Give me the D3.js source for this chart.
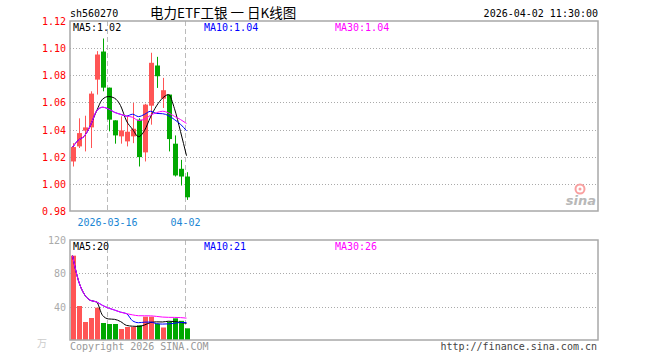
<!DOCTYPE html>
<html>
<head>
<meta charset="utf-8">
<script src="https://cdn.jsdelivr.net/npm/d3@7/dist/d3.min.js"></script>
<style>
body { margin: 0; background: #fff; }
text { font-family: "DejaVu Sans Mono", monospace; font-size: 10px; }
</style>
</head>
<body>
<script>
// daily data
const dates = ["2026-03-06", "2026-03-09", "2026-03-10", "2026-03-11", "2026-03-12", "2026-03-13",
  "2026-03-16", "2026-03-17", "2026-03-18", "2026-03-19", "2026-03-20", "2026-03-23", "2026-03-24",
  "2026-03-25", "2026-03-26", "2026-03-27", "2026-03-30", "2026-03-31", "2026-04-01", "2026-04-02"]
const opens = [1.0165, 1.0276, 1.0392, 1.0416, 1.0768, 1.0975, 1.0709, 1.0468, 1.0350, 1.0313,
  1.0350, 1.0473, 1.0232, 1.0576, 1.0872, 1.0628, 1.0658, 1.0296, 1.0111, 1.0054]
const closes = [1.0271, 1.0374, 1.0416, 1.0665, 1.0953, 1.0709, 1.0473, 1.0357, 1.0394, 1.0384,
  1.0406, 1.0197, 1.0584, 1.0892, 1.0793, 1.0690, 1.0330, 1.0062, 1.0054, 0.9901]
const highs = [1.0300, 1.0483, 1.0502, 1.0682, 1.0978, 1.1071, 1.0709, 1.0468, 1.0498, 1.0498,
  1.0596, 1.0483, 1.0590, 1.0966, 1.0936, 1.0781, 1.0658, 1.0357, 1.0177, 1.0086]
const lows = [1.0128, 1.0264, 1.0239, 1.0264, 1.0658, 1.0682, 1.0387, 1.0296, 1.0296, 1.0276,
  1.0300, 1.0128, 1.0165, 1.0436, 1.0707, 1.0559, 1.0239, 1.0054, 0.9988, 0.9882]
const volumes = [101.2, 40.8, 21.6, 26.4, 38.8, 20.4, 19.2, 19.2, 13.2, 15.6,
  15.6, 17.6, 28, 28, 19.6, 15, 22, 26, 23, 14]

const priceTicks = [1.12, 1.10, 1.08, 1.06, 1.04, 1.02, 1.00, 0.98]
const volTicks = [120, 80, 40]
const markDates = ["2026-03-16", "2026-04-02"]
const markLabels = ["2026-03-16", "04-02"]

const red = "#ff5555", green = "#00a800"

var svg = d3.select("body").append("svg")
  .attr("width", 660)
  .attr("height", 360)

// 88 day slots across the panel
var x = d3.scaleBand().domain(d3.range(88)).range([69.5, 597.5])
var xc = i => x(i) + x.bandwidth() / 2
var y = d3.scaleLinear().domain([0.98, 1.12]).range([211, 21])
var yv = d3.scaleLinear().domain([0, 120]).range([340, 240])

function ma(arr, n) {
  return arr.map((d, i) => d3.mean(arr.slice(Math.max(0, i - n + 1), i + 1)))
}

// header
svg.append("text").attr("x", 70).attr("y", 17).text("sh560270")
svg.append("text").attr("x", 150).attr("y", 18)
  .attr("xml:space", "preserve")
  .style("font-family", "'Noto Sans CJK SC', sans-serif").style("font-size", "13.5px")
  .text("电力ETF工银 一 日K线图")
svg.append("text").attr("x", 598).attr("y", 17).attr("text-anchor", "end").text("2026-04-02 11:30:00")

// price grid
svg.selectAll(".pgrid").data(priceTicks.slice(1, -1)).enter().append("line")
  .attr("x1", 70).attr("x2", 598)
  .attr("y1", d => Math.round(y(d)) + 0.5).attr("y2", d => Math.round(y(d)) + 0.5)
  .style("stroke", "#aaa").style("stroke-dasharray", "1,2")

svg.selectAll(".plab").data(priceTicks).enter().append("text")
  .attr("x", 66).attr("y", d => y(d) + 4).attr("text-anchor", "end")
  .style("fill", "#f00").text(d => d.toFixed(2))

// volume grid
svg.selectAll(".vgrid").data(volTicks.slice(1)).enter().append("line")
  .attr("x1", 70).attr("x2", 598)
  .attr("y1", d => Math.round(yv(d)) + 0.5).attr("y2", d => Math.round(yv(d)) + 0.5)
  .style("stroke", "#aaa").style("stroke-dasharray", "1,2")

svg.selectAll(".vlab").data(volTicks).enter().append("text")
  .attr("x", 66).attr("y", d => yv(d) + 4).attr("text-anchor", "end")
  .style("fill", "#aaa").text(d => d)
svg.append("text").attr("x", 47).attr("y", 347).attr("text-anchor", "end")
  .style("fill", "#ccc").style("font-family", "'Noto Sans CJK SC', sans-serif").text("万")

// dashed date markers
markDates.forEach((d, k) => {
  var i = dates.indexOf(d)
  var mx = Math.round(xc(i)) - 1.5
  svg.append("line").attr("x1", mx).attr("x2", mx).attr("y1", 21).attr("y2", 211)
    .style("stroke", "#bbb").style("stroke-dasharray", "5,3")
  svg.append("line").attr("x1", mx).attr("x2", mx).attr("y1", 240).attr("y2", 340)
    .style("stroke", "#bbb").style("stroke-dasharray", "5,3")
  svg.append("text").attr("x", mx).attr("y", 225.5).attr("text-anchor", "middle")
    .style("fill", "#1a86d4").text(markLabels[k])
})

// candles
var idx = d3.range(dates.length)
svg.selectAll(".wick").data(idx).enter().append("line")
  .attr("x1", i => Math.round(xc(i)) + 0.5).attr("x2", i => Math.round(xc(i)) + 0.5)
  .attr("y1", i => y(highs[i])).attr("y2", i => y(lows[i]))
  .style("stroke", i => closes[i] >= opens[i] ? red : green)

svg.selectAll(".body").data(idx).enter().append("rect")
  .attr("x", i => Math.round(xc(i)) - 2)
  .attr("width", 5)
  .attr("y", i => y(Math.max(opens[i], closes[i])))
  .attr("height", i => Math.max(1, Math.abs(y(opens[i]) - y(closes[i]))))
  .style("fill", i => closes[i] >= opens[i] ? red : green)

// volume bars
svg.selectAll(".vbar").data(idx).enter().append("rect")
  .attr("x", i => Math.round(xc(i)) - 2)
  .attr("width", 5)
  .attr("y", i => yv(volumes[i]))
  .attr("height", i => yv(0) - yv(volumes[i]))
  .style("fill", i => closes[i] >= opens[i] ? red : green)

// moving averages
var maColors = ["#000", "#00f", "#f0f"]
var maDays = [5, 10, 30]
var lineP = d3.line().x((d, i) => xc(i)).y(d => y(d)).curve(d3.curveMonotoneX)
var lineV = d3.line().x((d, i) => xc(i)).y(d => yv(d)).curve(d3.curveMonotoneX)
var maLabX = [73, 204, 335]

maDays.forEach((n, k) => {
  var mp = ma(closes, n)
  var mv = ma(volumes, n)
  svg.append("path").attr("d", lineP(mp)).style("fill", "none").style("stroke", maColors[k])
  svg.append("path").attr("d", lineV(mv)).style("fill", "none").style("stroke", maColors[k])
  svg.append("text").attr("x", maLabX[k]).attr("y", 30.5).style("fill", maColors[k])
    .text("MA" + n + ":" + mp[mp.length - 1].toFixed(2))
  svg.append("text").attr("x", maLabX[k]).attr("y", 250).style("fill", maColors[k])
    .text("MA" + n + ":" + Math.round(mv[mv.length - 1]))
})

// panel frames
svg.append("rect").attr("x", 70).attr("y", 21).attr("width", 528).attr("height", 190)
  .style("fill", "none").style("stroke", "#a8a8a8").style("stroke-width", 1.5)
svg.append("rect").attr("x", 70).attr("y", 240).attr("width", 528).attr("height", 100)
  .style("fill", "none").style("stroke", "#a8a8a8").style("stroke-width", 1.5)

// sina mark
svg.append("circle").attr("cx", 580).attr("cy", 189).attr("r", 4.5)
  .style("fill", "none").style("stroke", "#f9a0a0").style("stroke-width", 2)
svg.append("circle").attr("cx", 580).attr("cy", 189).attr("r", 1.5).style("fill", "#f9a0a0")
svg.append("text").attr("x", 596).attr("y", 205).attr("text-anchor", "end")
  .style("font-family", "'DejaVu Sans', sans-serif").style("font-size", "13px")
  .style("font-style", "italic").style("font-weight", "bold").style("fill", "#b8b8b8").text("sina")

// footer
svg.append("text").attr("x", 70).attr("y", 350).style("fill", "#999").text("Copyright 2026 SINA.COM")
svg.append("text").attr("x", 597).attr("y", 350).attr("text-anchor", "end")
  .style("fill", "#444").text("http://finance.sina.com.cn")
</script>
</body>
</html>
